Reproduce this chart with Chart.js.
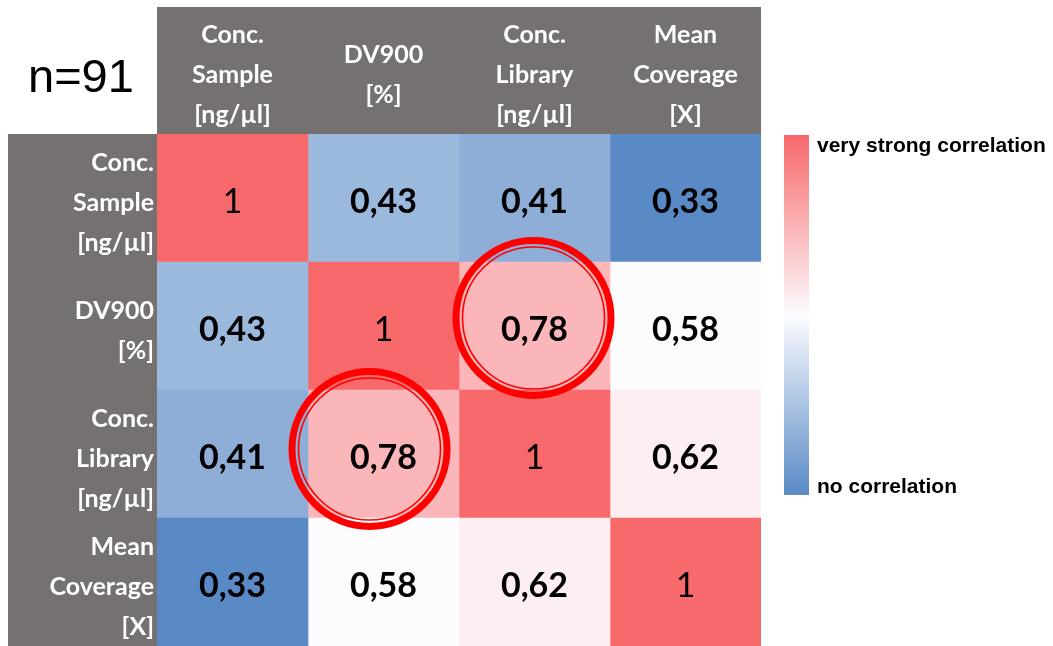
<!DOCTYPE html>
<html>
<head>
<meta charset="utf-8">
<script src="https://cdn.jsdelivr.net/npm/chart.js@4/dist/chart.umd.min.js"></script>
<style>
  html, body { margin: 0; padding: 0; background: #fff; }
</style>
</head>
<body>
<canvas id="myChart" width="1053" height="646"></canvas>
<script>
// Data
const rowLabels = [
  ["Conc.", "Sample", "[ng/µl]"],
  ["DV900", "[%]"],
  ["Conc.", "Library", "[ng/µl]"],
  ["Mean", "Coverage", "[X]"],
];
const colLabels = [
  ["Conc.", "Sample", "[ng/µl]"],
  ["DV900", "[%]"],
  ["Conc.", "Library", "[ng/µl]"],
  ["Mean", "Coverage", "[X]"],
];
const values = [
  [1, 0.43, 0.41, 0.33],
  [0.43, 1, 0.78, 0.58],
  [0.41, 0.78, 1, 0.62],
  [0.33, 0.58, 0.62, 1],
];
const highlighted = [
  [1, 2],
  [2, 1],
];
const sampleText = "n=91";
const legendTop = "very strong correlation";
const legendBottom = "no correlation";

// Styles
const GRAY = "#767171";
const RED = [248, 105, 107];
const WHITE = [252, 252, 255];
const BLUE = [90, 138, 198];
const circleShift = [[-1, -8], [-14, -5]];

// red - white - blue scale, midpoint at the median of the distinct values
const flat = values.flat();
const vMin = Math.min(...flat);
const vMax = Math.max(...flat);
const uniq = [...new Set(flat)].sort((a, b) => a - b);
const vMid = uniq[Math.floor(uniq.length / 2)];

const mix = (a, b, t) =>
  `rgb(${a.map((c, i) => Math.round(c + (b[i] - c) * t)).join(",")})`;

function cellColor(v) {
  if (v >= vMid) return mix(WHITE, RED, (v - vMid) / (vMax - vMid));
  return mix(WHITE, BLUE, (vMid - v) / (vMid - vMin));
}

const formatValue = (v) => (v === 1 ? "1" : v.toFixed(2).replace(".", ","));

const datasets = colLabels.map((col, j) => ({
  label: col.join(" "),
  data: values.map(() => [j, j + 1]),
  backgroundColor: values.map((row) => cellColor(row[j])),
  borderWidth: 0,
  grouped: false,
  barPercentage: 1,
  categoryPercentage: 1,
}));

const decor = {
  id: "decor",
  beforeDraw(chart) {
    const { ctx, chartArea: a, scales } = chart;
    ctx.save();
    ctx.fillStyle = GRAY;
    ctx.fillRect(a.left, scales.x.top, a.right - a.left, a.top - scales.x.top);
    ctx.fillRect(scales.y.left, a.top, a.left - scales.y.left, a.bottom - a.top);
    ctx.restore();
  },
  afterDatasetsDraw(chart) {
    const { ctx } = chart;
    ctx.save();
    ctx.fillStyle = "#000";
    ctx.textAlign = "center";
    ctx.textBaseline = "middle";
    chart.data.datasets.forEach((ds, j) => {
      chart.getDatasetMeta(j).data.forEach((bar, i) => {
        const v = values[i][j];
        const p = bar.getCenterPoint();
        ctx.font = (v === 1 ? "" : "bold ") + "34px Lato";
        ctx.fillText(formatValue(v), p.x, p.y + 4);
      });
    });
    ctx.restore();
  },
  afterDraw(chart) {
    const { ctx, chartArea: a, scales } = chart;
    ctx.save();

    // circles round the highlighted cells
    ctx.strokeStyle = "#ff0000";
    highlighted.forEach(([r, c], k) => {
      const cx = scales.x.getPixelForValue(c + 0.5) + circleShift[k][0];
      const cy = scales.y.getPixelForValue(r) + circleShift[k][1];
      ctx.lineWidth = 7;
      ctx.beginPath();
      ctx.arc(cx, cy, 77.5, 0, Math.PI * 2);
      ctx.stroke();
      ctx.lineWidth = 1.6;
      ctx.beginPath();
      ctx.arc(cx, cy, 71, 0, Math.PI * 2);
      ctx.stroke();
    });

    // colour bar legend
    const bx = a.right + 23;
    const bTop = a.top + 1;
    const bBottom = a.top + a.height * 0.705;
    const g = ctx.createLinearGradient(0, bTop, 0, bBottom);
    g.addColorStop(0, cellColor(vMax));
    g.addColorStop(0.5, cellColor(vMid));
    g.addColorStop(1, cellColor(vMin));
    ctx.fillStyle = g;
    ctx.fillRect(bx, bTop, 25, bBottom - bTop);

    ctx.fillStyle = "#000";
    ctx.font = "bold 21px 'Liberation Sans', Arial";
    ctx.textAlign = "left";
    ctx.textBaseline = "alphabetic";
    ctx.fillText(legendTop, bx + 33, bTop + 17);
    ctx.fillText(legendBottom, bx + 33, bBottom - 2);

    // sample size
    ctx.font = "47px 'Liberation Sans', Arial";
    ctx.fillText(sampleText, 28, 92);
    ctx.restore();
  },
};

const labelFont = { family: "Lato", weight: "bold", size: 25, lineHeight: 1.6 };

new Chart(document.getElementById("myChart"), {
  type: "bar",
  data: { labels: rowLabels, datasets: datasets },
  options: {
    indexAxis: "y",
    responsive: false,
    animation: false,
    devicePixelRatio: 1,
    layout: { padding: { left: 8, top: 7, right: 292, bottom: 0 } },
    plugins: { legend: { display: false }, tooltip: { enabled: false } },
    scales: {
      x: {
        type: "linear",
        position: "top",
        min: 0,
        max: colLabels.length,
        grid: { display: false, drawTicks: false },
        border: { display: false },
        afterBuildTicks: (s) => {
          s.ticks = colLabels.map((_, j) => ({ value: j + 0.5 }));
        },
        afterFit: (s) => {
          s.height = 127;
          s.paddingLeft = 0;
          s.paddingRight = 0;
        },
        ticks: {
          callback: (v) => colLabels[Math.floor(v)],
          color: "#fff",
          font: labelFont,
          padding: 19,
          maxRotation: 0,
          autoSkip: false,
          crossAlign: "center",
        },
      },
      y: {
        grid: { display: false, drawTicks: false },
        border: { display: false },
        afterFit: (s) => {
          s.width = 149;
          s.paddingTop = 0;
          s.paddingBottom = 0;
        },
        ticks: {
          color: "#fff",
          font: labelFont,
          padding: 3,
          labelOffset: 5,
          autoSkip: false,
        },
      },
    },
  },
  plugins: [decor],
});
</script>
</body>
</html>
